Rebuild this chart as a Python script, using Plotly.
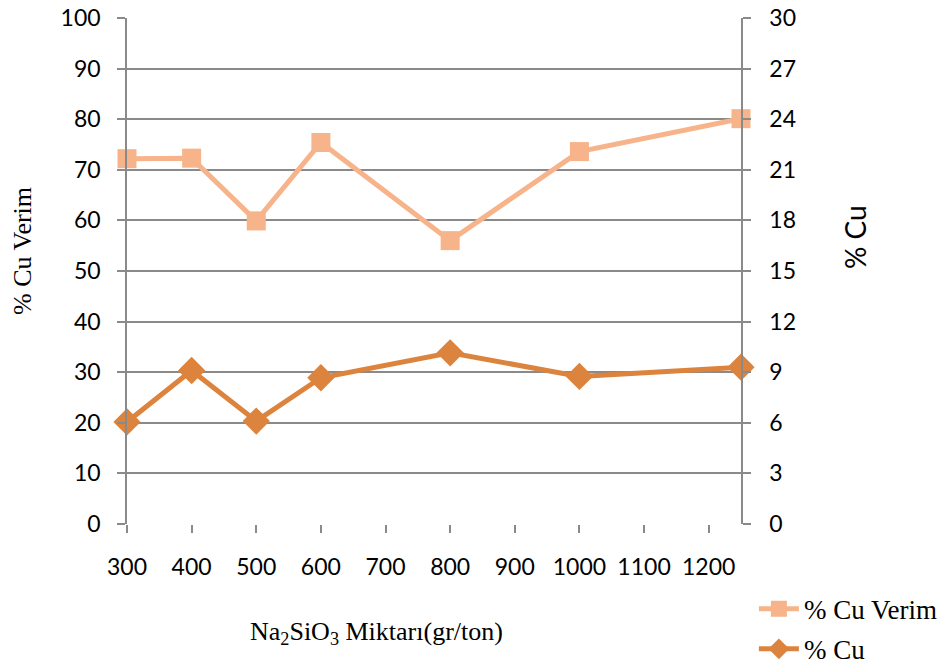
import plotly.graph_objects as go

x_vals = [300, 400, 500, 600, 800, 1000, 1250]
cu_verim = [72.2, 72.3, 59.9, 75.4, 56.0, 73.6, 80.1]
cu = [6.05, 9.1, 6.1, 8.67, 10.15, 8.75, 9.3]

x_ticks = list(range(300, 1201, 100))
y_left_ticks = list(range(0, 101, 10))
y_right_ticks = list(range(0, 31, 3))

c_verim = "#F7B38A"
c_cu = "#DC843D"
grid = "#8A8A8A"
tickfont = dict(family="Lato, Carlito, Liberation Sans, sans-serif", size=23, color="#000000")
serif = "Liberation Serif, Times New Roman, serif"

fig = go.Figure()
fig.add_trace(go.Scatter(
    x=x_vals, y=cu_verim, name="% Cu Verim", mode="lines+markers",
    line=dict(color=c_verim, width=5),
    marker=dict(symbol="square", size=19, color=c_verim),
    yaxis="y", cliponaxis=False, legendgroup="a",
))
fig.add_trace(go.Scatter(
    x=x_vals, y=cu, name="% Cu", mode="lines+markers",
    line=dict(color=c_cu, width=5),
    marker=dict(symbol="diamond", size=21, color=c_cu),
    yaxis="y2", cliponaxis=False, legendgroup="b",
))

fig.update_layout(
    width=949, height=669,
    margin=dict(l=127, r=208, t=18, b=145, autoexpand=False),
    paper_bgcolor="white", plot_bgcolor="white",
    showlegend=True,
    legend=dict(
        x=1.021, y=-0.12, xanchor="left", yanchor="top",
        font=dict(family=serif, size=27, color="#000000"),
        tracegroupgap=2, itemwidth=40,
        bgcolor="rgba(0,0,0,0)",
    ),
    xaxis=dict(
        range=[300, 1250], tickvals=x_ticks, ticktext=[str(v) for v in x_ticks],
        showgrid=False, zeroline=False,
        showline=False,
        ticks="outside", ticklen=8, tickwidth=1.5, tickcolor=grid,
        tickfont=tickfont, ticklabelstandoff=14,
    ),
    yaxis=dict(
        range=[0, 100], tickvals=y_left_ticks,
        showgrid=True, gridcolor=grid, gridwidth=1.5,
        zeroline=False, showline=True, linecolor=grid, linewidth=1.5,
        ticks="outside", ticklen=8, tickwidth=1.5, tickcolor=grid,
        tickfont=tickfont, ticklabelstandoff=12,
    ),
    yaxis2=dict(
        range=[0, 30], tickvals=y_right_ticks, overlaying="y", side="right",
        showgrid=False, zeroline=False, showline=True, linecolor=grid, linewidth=1.5,
        ticks="outside", ticklen=8, tickwidth=1.5, tickcolor=grid,
        tickfont=tickfont, ticklabelstandoff=14,
    ),
    annotations=[
        dict(text="Na<sub>2</sub>SiO<sub>3</sub> Miktarı(gr/ton)", xref="paper", yref="paper",
             x=(376 - 127) / 614, y=-(633 - 524) / 506, xanchor="center", yanchor="middle",
             showarrow=False, font=dict(family=serif, size=26, color="#000000")),
        dict(text="% Cu Verim", xref="paper", yref="paper",
             x=-(127 - 22) / 614, y=(524 - 251) / 506, xanchor="center", yanchor="middle",
             textangle=-90, showarrow=False, font=dict(family=serif, size=26, color="#000000")),
        dict(text="% Cu", xref="paper", yref="paper",
             x=(855 - 127) / 614, y=(524 - 237) / 506, xanchor="center", yanchor="middle",
             textangle=-90, showarrow=False, font=dict(family="Lato, Liberation Sans, sans-serif", size=28, color="#000000")),
    ],
)

fig.write_html("out.html")
